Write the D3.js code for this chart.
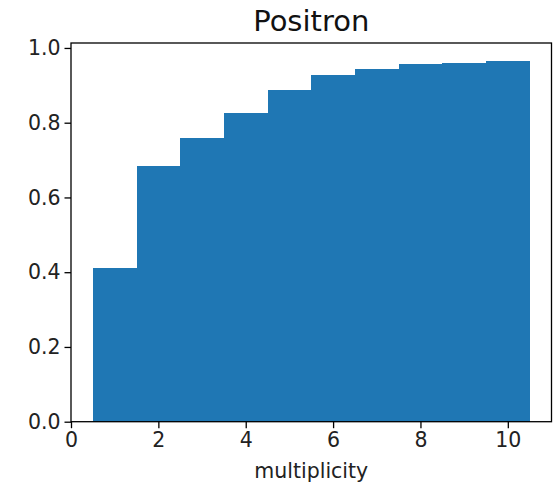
<!DOCTYPE html>
<html>
<head>
<meta charset="utf-8">
<script src="https://cdn.jsdelivr.net/npm/d3@7"></script>
<style>
  html, body { margin: 0; padding: 0; background: #fff; }
  svg { display: block; font-family: "DejaVu Sans", sans-serif; }
</style>
</head>
<body>
<svg id="chart" width="553" height="483"></svg>
<script>
// Cumulative fraction per multiplicity bin
const multiplicity = [1, 2, 3, 4, 5, 6, 7, 8, 9, 10];
const fraction = [0.411, 0.685, 0.759, 0.826, 0.887, 0.927, 0.945, 0.956, 0.960, 0.965];
const xTicks = [0, 2, 4, 6, 8, 10];
const yTicks = [0.0, 0.2, 0.4, 0.6, 0.8, 1.0];
const title = "Positron";
const xLabel = "multiplicity";

const W = 553, H = 483;
const m = { left: 71, right: 1.5, top: 43, bottom: 61.3 };
const svg = d3.select("#chart");

const x = d3.scaleLinear().domain([0, 11]).range([m.left, W - m.right]);
const y = d3.scaleLinear().domain([0, d3.max(fraction) * 1.05]).range([H - m.bottom, m.top]);

// bars: each bin spans [k - 0.5, k + 0.5]
svg.append("g")
  .attr("shape-rendering", "crispEdges")
  .selectAll("rect")
  .data(multiplicity.map((k, i) => ({ k, v: fraction[i] })))
  .join("rect")
  .attr("x", d => x(d.k - 0.5))
  .attr("width", d => x(d.k + 0.5) - x(d.k - 0.5) + 0.5)
  .attr("y", d => y(d.v))
  .attr("height", d => y(0) - y(d.v))
  .attr("fill", "#1f77b4");

const fontSize = 20.5;

const xAxis = svg.append("g")
  .attr("transform", `translate(0,${H - m.bottom})`)
  .call(d3.axisBottom(x).tickValues(xTicks).tickFormat(d3.format("d")).tickSize(6.5).tickPadding(4));
const yAxis = svg.append("g")
  .attr("transform", `translate(${m.left},0)`)
  .call(d3.axisLeft(y).tickValues(yTicks).tickFormat(d3.format(".1f")).tickSize(6.5).tickPadding(4));

[xAxis, yAxis].forEach(g => {
  g.select(".domain").remove();
  g.selectAll(".tick line").attr("stroke", "#000").attr("stroke-width", 1.3);
  g.selectAll(".tick text")
    .attr("fill", "#222")
    .style("font-size", fontSize + "px")
    .style("font-family", "DejaVu Sans, sans-serif");
});

// frame
svg.append("rect")
  .attr("x", x(0)).attr("y", m.top)
  .attr("width", x(11) - x(0)).attr("height", y(0) - m.top)
  .attr("fill", "none").attr("stroke", "#000").attr("stroke-width", 1.3);

svg.append("text")
  .attr("x", (x(0) + x(11)) / 2).attr("y", 31)
  .attr("text-anchor", "middle")
  .attr("fill", "#111")
  .style("font-size", "29px")
  .text(title);

svg.append("text")
  .attr("x", (x(0) + x(11)) / 2).attr("y", 478)
  .attr("text-anchor", "middle")
  .attr("fill", "#222")
  .style("font-size", fontSize + "px")
  .text(xLabel);
</script>
</body>
</html>
